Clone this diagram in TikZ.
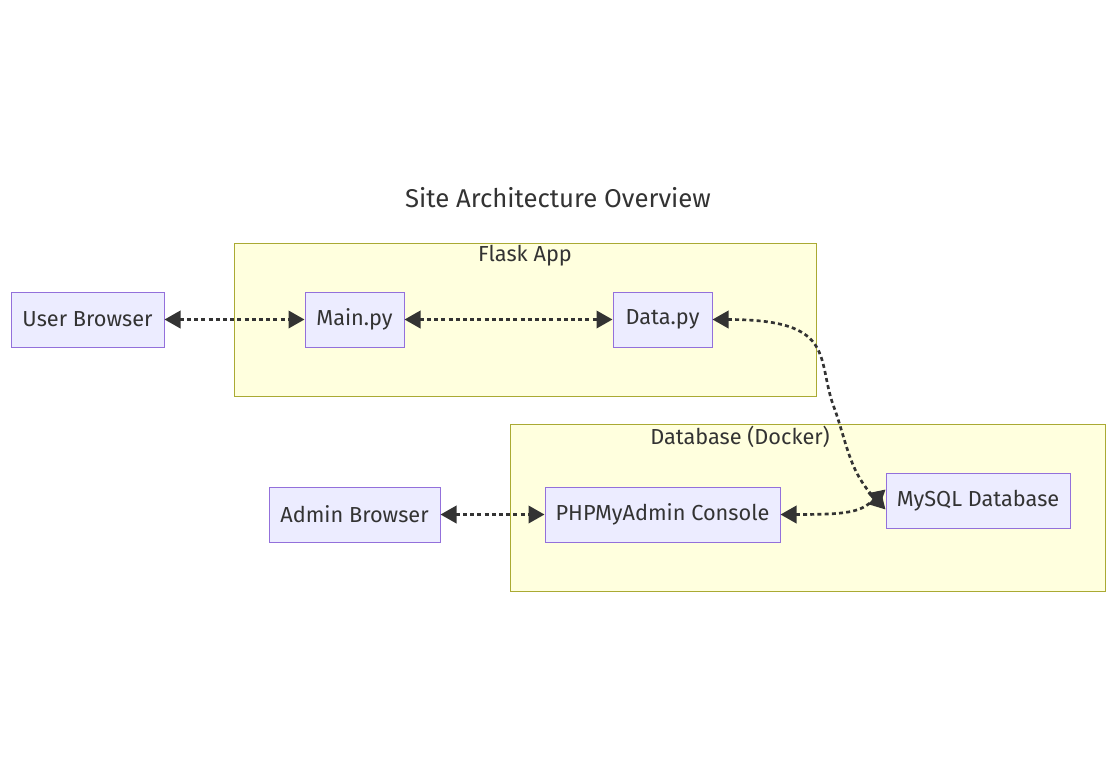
\documentclass[tikz,border=0pt]{standalone}
\usepackage{fontspec}
\setmainfont{Fira Sans}
\usetikzlibrary{arrows.meta}
\definecolor{nodefill}{HTML}{ECECFF}
\definecolor{nodeline}{HTML}{9370DB}
\definecolor{clfill}{HTML}{FFFFDE}
\definecolor{clline}{HTML}{AAAA33}
\definecolor{txt}{HTML}{333333}
\tikzset{
  box/.style={draw=nodeline, fill=nodefill, line width=0.75pt, text=txt, font=\fontsize{16.3}{19}\selectfont, inner sep=0pt, anchor=center},
  cluster/.style={draw=clline, fill=clfill, line width=0.75pt},
  cltitle/.style={text=txt, font=\fontsize{16.3}{19}\selectfont},
  link/.style={draw=txt, line width=2pt, dash pattern=on 3pt off 2.4pt, {Triangle[length=12pt,width=13pt]}-{Triangle[length=12pt,width=13pt]}}
}
\begin{document}
\begin{tikzpicture}[x=0.75pt,y=-0.75pt]
\useasboundingbox (0,0) rectangle (1116,775);
\fill[white] (0,0) rectangle (1116,775);
\node[text=txt, font=\fontsize{19.3}{23}\selectfont] (title) at (558,198) {Site Architecture Overview};
% clusters
\draw[cluster] (234,243) rectangle (816,396);
\node[cltitle] (flask) at (525,256) {Flask App};
\draw[cluster] (510,424) rectangle (1105,591);
\node[cltitle] (dbcl) at (740,437) {Database (Docker)};
% nodes
\node[box, minimum width=153*0.75pt, minimum height=55*0.75pt] (user) at (87.5,319.5) {User Browser};
\node[box, minimum width=99*0.75pt, minimum height=55*0.75pt] (main) at (354.5,319.5) {Main.py};
\node[box, minimum width=99*0.75pt, minimum height=55*0.75pt] (data) at (662.5,319.5) {Data.py};
\node[box, minimum width=171*0.75pt, minimum height=55*0.75pt] (admin) at (354.5,514.5) {Admin Browser};
\node[box, minimum width=235*0.75pt, minimum height=55*0.75pt] (php) at (662.5,514.5) {PHPMyAdmin Console};
\node[box, minimum width=184*0.75pt, minimum height=55*0.75pt] (mysql) at (978,500.5) {MySQL Database};
% links
\draw[link] (user.east) -- (main.west);
\draw[link] (main.east) -- (data.west);
\draw[link] (data.east) .. controls (840,319.5) and (815,360) .. (835,410) .. controls (848,448) and (850,472) .. ([yshift=-9*0.75pt]mysql.west);
\draw[link] (admin.east) -- (php.west);
\draw[link] (php.east) .. controls (850,514.5) and (860,512) .. ([yshift=11*0.75pt]mysql.west);
\end{tikzpicture}
\end{document}
